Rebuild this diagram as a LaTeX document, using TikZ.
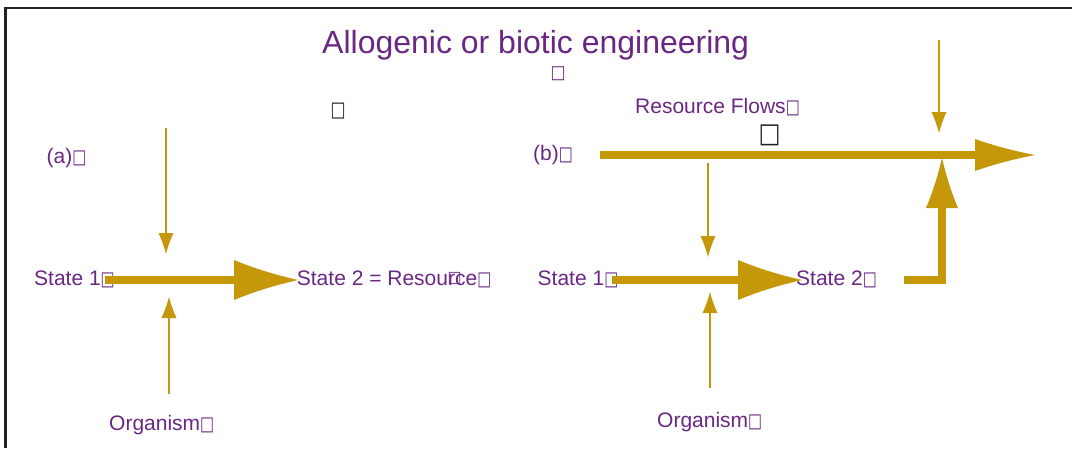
\documentclass[tikz,border=0pt]{standalone}
\usepackage{fontspec}
\usepackage{graphicx}
\setmainfont{Liberation Sans}
\newfontfamily\boxfont{DejaVu Sans}
\usetikzlibrary{arrows.meta}

\definecolor{gold}{RGB}{196,152,8}
\definecolor{plum}{RGB}{106,40,130}
\definecolor{ink}{RGB}{34,34,34}

\pgfdeclarearrow{
  name = Conc,
  parameters = {\the\pgfarrowlength,\the\pgfarrowwidth},
  setup code = {
    \pgfarrowssettipend{0pt}
    \pgfarrowssetbackend{-1\pgfarrowlength}
    \pgfarrowssetlineend{-0.5\pgfarrowlength}
    \pgfarrowssavethe\pgfarrowlength
    \pgfarrowssavethe\pgfarrowwidth
  },
  drawing code = {
    \pgfpathmoveto{\pgfpointorigin}
    \pgfpathcurveto{\pgfpoint{-0.33\pgfarrowlength}{0.12\pgfarrowwidth}}
                   {\pgfpoint{-0.67\pgfarrowlength}{0.28\pgfarrowwidth}}
                   {\pgfpoint{-1\pgfarrowlength}{0.5\pgfarrowwidth}}
    \pgfpathlineto{\pgfpoint{-1\pgfarrowlength}{-0.5\pgfarrowwidth}}
    \pgfpathcurveto{\pgfpoint{-0.67\pgfarrowlength}{-0.28\pgfarrowwidth}}
                   {\pgfpoint{-0.33\pgfarrowlength}{-0.12\pgfarrowwidth}}
                   {\pgfpointorigin}
    \pgfpathclose
    \pgfusepathqfill
  },
  defaults = {length = 20pt, width = 14pt}
}

% missing-glyph box as printed in the reference
\newcommand\ndbox[2]{\resizebox*{#1}{#2}{\boxfont\bfseries □}}
\newcommand\nd{\ndbox{14pt}{15pt}}

\tikzset{
  thinarrow/.style={draw=gold, line width=2.5pt, -{Conc[length=21pt,width=15pt]}},
  thickarrow/.style={draw=gold, line width=8pt, line join=miter, -{Conc[length=64pt,width=40pt]}},
  thickarrowsm/.style={draw=gold, line width=8pt, line join=miter, -{Conc[length=60pt,width=32pt]}},
  thickarrowup/.style={draw=gold, line width=8pt, line join=miter, -{Conc[length=50pt,width=32pt]}},
  lbl/.style={text=plum, font=\fontsize{21}{24}\selectfont, inner sep=0pt, anchor=base west},
  titlelbl/.style={text=plum, font=\fontsize{32}{36}\selectfont, inner sep=0pt, anchor=base west},
  glyphbox/.style={inner sep=0pt, anchor=center}
}

\begin{document}
\begin{tikzpicture}[x=1pt,y=-1pt]
\useasboundingbox (0,0) rectangle (1072,448);
\fill[white] (0,0) rectangle (1072,448);

% frame
\draw[line width=2.5pt, ink] (5.5,448) -- (5.5,8) -- (1072,8);

% title
\node[titlelbl] (title) at (322,53.3) {Allogenic or biotic engineering};

% stray glyph boxes
\node[glyphbox, text=ink] (gb1) at (338,111) {\ndbox{15pt}{16pt}};
\node[glyphbox, text=plum] (gb2) at (558,74) {\ndbox{15pt}{14pt}};
\node[glyphbox, text=ink] (gb3) at (769.5,135.5) {\resizebox*{22pt}{21pt}{\boxfont\bfseries □}};

% panel (a)
\node[lbl] (la) at (46.5,163) {(a)\nd};
\node[lbl] (s1a) at (34,285) {State 1\nd};
\node[lbl] (s2a) at (296.7,285) {State 2 = Resource\nd};
\node[glyphbox, text=plum] (gb4) at (454.5,278) {\ndbox{14pt}{12pt}};
\node[lbl] (orga) at (109,430) {Organism\nd};

\coordinate (aDt) at (166,128);
\coordinate (aDb) at (166,254);
\coordinate (aUb) at (169,394);
\coordinate (aUt) at (169,297);
\coordinate (aHs) at (105,280);
\coordinate (aHe) at (298,280);

\draw[thinarrow] (aDt) -- (aDb);
\draw[thinarrow] (aUb) -- (aUt);
\draw[thickarrow] (aHs) -- (aHe);

% panel (b)
\node[lbl] (lb) at (533,160) {(b)\nd};
\node[lbl] (rf) at (635,113.3) {Resource Flows\nd};
\node[lbl] (s1b) at (537.5,285) {State 1\nd};
\node[lbl] (s2b) at (796,285) {State 2\nd};
\node[lbl] (orgb) at (657,427) {Organism\nd};

\coordinate (bTs) at (600,155);
\coordinate (bTe) at (1035,155);
\coordinate (bRt) at (939,40);
\coordinate (bRb) at (939,133);
\coordinate (bEs) at (904,280);
\coordinate (bEe) at (942,158);
\coordinate (bDt) at (708,163);
\coordinate (bDb) at (708,257);
\coordinate (bHs) at (612,280);
\coordinate (bHe) at (802,280);
\coordinate (bUb) at (710,388);
\coordinate (bUt) at (710,292);

\draw[thickarrowsm] (bTs) -- (bTe);
\draw[thinarrow] (bRt) -- (bRb);
\draw[thickarrowup] (bEs) -| (bEe);
\draw[thinarrow] (bDt) -- (bDb);
\draw[thickarrow] (bHs) -- (bHe);
\draw[thinarrow] (bUb) -- (bUt);
\end{tikzpicture}
\end{document}
